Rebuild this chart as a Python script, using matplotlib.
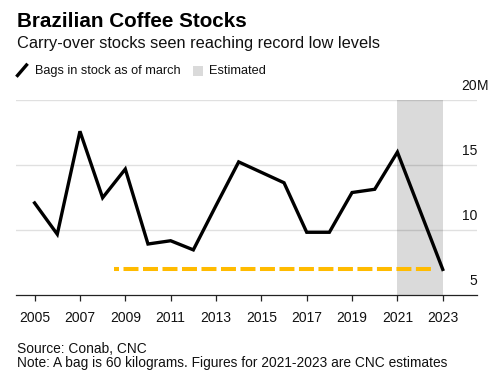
import matplotlib.pyplot as plt
from matplotlib.lines import Line2D
from matplotlib.patches import Rectangle
import matplotlib.transforms as mtransforms

plt.rcParams['font.family'] = ['Liberation Sans', 'DejaVu Sans']

# data (millions of bags, as of march)
years = list(range(2005, 2024))
stocks = [12.1, 9.7, 17.6, 12.5, 14.7, 8.95, 9.2, 8.5, 11.9, 15.25,
          14.45, 13.65, 9.85, 9.85, 12.9, 13.15, 16.0, 11.5, 7.0]
record_x = [2008.5, 2022.5]
record_y = [7.0, 7.0]
est_start, est_end = 2021, 2023
yticks = [5, 10, 15, 20]
ytick_labels = ['5', '10', '15', '20']
xticks = list(range(2005, 2024, 2))

fig = plt.figure(figsize=(5, 3.83), dpi=100)
ax = fig.add_axes([0.032, 0.2285, 0.922, 0.5104])

ax.axvspan(est_start, est_end, color='#dadada', lw=0, zorder=1)
for v in yticks[1:]:
    ax.axhline(v, color='black', alpha=0.12, lw=1, zorder=2)

ax.plot(years, stocks, color='black', lw=2.4, solid_joinstyle='miter', zorder=4)

# record-low reference line
ax.plot(record_x, record_y, color='#ffbb00', lw=2.9,
        linestyle=(2.48, (3.72, 1.12)), dash_capstyle='butt', zorder=3)

ax.set_xlim(2004.18, 2024.51)
ax.set_ylim(5, 20)
for s in ['top', 'right', 'left']:
    ax.spines[s].set_visible(False)
ax.spines['bottom'].set_color('#222222')
ax.spines['bottom'].set_linewidth(0.9)
ax.set_yticks([])
ax.set_xticks(xticks)
ax.set_xticklabels([str(x) for x in xticks])
ax.tick_params(axis='x', length=4, width=0.9, color='#222222', pad=7,
               labelsize=10, labelcolor='#111111')

# y labels sit above the gridlines, right-aligned at the axis edge
off = mtransforms.offset_copy(ax.get_yaxis_transform(), fig=fig, x=0, y=7.2, units='points')
for v, lab in zip(yticks, ytick_labels):
    ax.text(1.0, v, lab, transform=off, ha='right', va='baseline',
            fontsize=10, color='#111111')
ax.text(1.0, 20, 'M', transform=off, ha='left', va='baseline',
        fontsize=10, color='#111111')

# titles
fig.text(0.034, 0.930, 'Brazilian Coffee Stocks', fontsize=14.9, fontweight='bold',
         va='baseline', ha='left', color='black')
fig.text(0.034, 0.874, 'Carry-over stocks seen reaching record low levels',
         fontsize=11.8, va='baseline', ha='left', color='#111111')

# legend
fig.add_artist(Line2D([0.035, 0.053], [1 - 75.5 / 383, 1 - 65 / 383],
                      transform=fig.transFigure, color='black', lw=2.4))
fig.text(0.070, 0.8068, 'Bags in stock as of march', fontsize=9.2,
         va='baseline', ha='left', color='#111111')
fig.add_artist(Rectangle((193.3 / 500, 1 - 75.5 / 383), 10 / 500, 10 / 383,
                         transform=fig.transFigure, color='#dadada', lw=0))
fig.text(0.418, 0.8068, 'Estimated', fontsize=9.2,
         va='baseline', ha='left', color='#111111')

# footer
fig.text(0.034, 0.0791, 'Source: Conab, CNC', fontsize=9.9,
         va='baseline', ha='left', color='#111111')
fig.text(0.034, 0.0426, 'Note: A bag is 60 kilograms. Figures for 2021-2023 are CNC estimates',
         fontsize=9.9, va='baseline', ha='left', color='#111111')

fig.savefig('out.png', dpi=100)
